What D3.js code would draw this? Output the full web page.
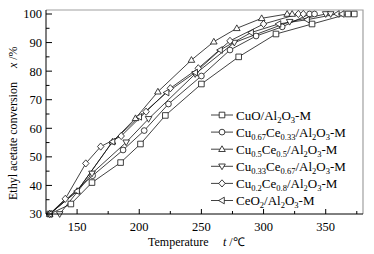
<!DOCTYPE html>
<html>
<head>
<meta charset="utf-8">
<script src="https://cdn.jsdelivr.net/npm/d3@7"></script>
<style>
  body { margin: 0; background: #fff; }
  svg { display: block; }
</style>
</head>
<body>
<div id="chart"></div>
<script>
// Series: [temperature, conversion %]
var cuoData = [[128, 30], [145, 33.5], [162, 41], [185, 48], [201, 54.5], [221, 64.5], [250, 75.5], [280, 85], [310, 93], [339, 96.5], [368, 100], [373, 100]];
var cu67Data = [[128, 30], [162.5, 43.4], [187, 52.4], [204, 59.2], [223.5, 68.5], [250, 78.3], [273, 87.4], [294, 92.3], [315, 95.5], [337, 100], [341, 100]];
var cu50Data = [[128, 30], [150, 38], [178.5, 55.3], [197, 63.5], [215, 72.8], [242, 83.9], [260, 90.3], [278.5, 95], [298.5, 98.5], [319, 100], [323, 100]];
var cu33Data = [[136, 30], [162, 44.2], [189.5, 55.1], [207.5, 63.3], [245, 79], [276.5, 90], [321, 97.3], [350, 100], [354, 100]];
var cu20Data = [[128, 30], [140.5, 35.3], [157, 47.7], [169, 53.6], [185.5, 57.3], [205.5, 65.8], [225, 74], [247.5, 81], [273, 90.6], [300, 96.5], [328, 100], [332, 100]];
var ceoData = [[128, 30], [150, 38], [178.5, 55.3], [200, 64], [222, 72.5], [245, 79.5], [265, 87.4], [290, 93.5], [312, 96.5], [335, 98], [359, 100], [363, 100]];

var seriesNames = ["CuO/Al2O3-M", "Cu0.67Ce0.33/Al2O3-M", "Cu0.5Ce0.5/Al2O3-M", "Cu0.33Ce0.67/Al2O3-M", "Cu0.2Ce0.8/Al2O3-M", "CeO2/Al2O3-M"];
// legend label pieces: [text, isSubscript]
var seriesLabels = [
    [["CuO/Al", 0], ["2", 1], ["O", 0], ["3", 1], ["-M", 0]],
    [["Cu", 0], ["0.67", 1], ["Ce", 0], ["0.33", 1], ["/Al", 0], ["2", 1], ["O", 0], ["3", 1], ["-M", 0]],
    [["Cu", 0], ["0.5", 1], ["Ce", 0], ["0.5", 1], ["/Al", 0], ["2", 1], ["O", 0], ["3", 1], ["-M", 0]],
    [["Cu", 0], ["0.33", 1], ["Ce", 0], ["0.67", 1], ["/Al", 0], ["2", 1], ["O", 0], ["3", 1], ["-M", 0]],
    [["Cu", 0], ["0.2", 1], ["Ce", 0], ["0.8", 1], ["/Al", 0], ["2", 1], ["O", 0], ["3", 1], ["-M", 0]],
    [["CeO", 0], ["2", 1], ["/Al", 0], ["2", 1], ["O", 0], ["3", 1], ["-M", 0]]
];
var markerTypes = ["square", "circle", "up", "down", "diamond", "left"];
var xTicks = [150, 200, 250, 300, 350];
var yTicks = [30, 40, 50, 60, 70, 80, 90, 100];

var allData = [cuoData, cu67Data, cu50Data, cu33Data, cu20Data, ceoData];

var width = 374, height = 254;
var margin = { top: 10, right: 11, bottom: 40, left: 46 };
var font = "'Liberation Serif', 'Times New Roman', serif";

var x = d3.scaleLinear([125, 380], [margin.left, width - margin.right]);
var y = d3.scaleLinear([30, 101.4], [height - margin.bottom, margin.top]);

const svg = d3.select("#chart")
    .append("svg")
    .attr("width", width)
    .attr("height", height)
    .attr("font-family", font);

// frame (top and right in grey)
svg.append("path")
    .attr("d", `M${margin.left},${margin.top}H${width - margin.right}V${height - margin.bottom}`)
    .attr("fill", "none")
    .attr("stroke", "#a0a0a0")
    .attr("stroke-width", 1.2);

// Marker shapes drawn around (0,0)
function markerPath(type) {
    var r = 2.8;
    if (type === "square") return `M${-r},${-r}H${r}V${r}H${-r}Z`;
    if (type === "circle") return d3.symbol(d3.symbolCircle, 26)();
    if (type === "up") return `M0,${-3.4}L${3.3},${2.3}L${-3.3},${2.3}Z`;
    if (type === "down") return `M0,${3.4}L${3.3},${-2.3}L${-3.3},${-2.3}Z`;
    if (type === "diamond") return `M0,${-3.6}L${3.2},0L0,${3.6}L${-3.2},0Z`;
    if (type === "left") return `M${-3.4},0L${2.3},${-3.3}L${2.3},${3.3}Z`;
}

var line = d3.line().x(d => x(d[0])).y(d => y(d[1]));

// lines first, then markers on top
svg.append("g")
    .selectAll("path")
    .data(allData)
    .join("path")
    .attr("d", line)
    .attr("fill", "none")
    .attr("stroke", "#111")
    .attr("stroke-width", 0.8);

allData.forEach(function (data, i) {
    svg.append("g")
        .selectAll("path")
        .data(data)
        .join("path")
        .attr("transform", d => `translate(${x(d[0])},${y(d[1])})`)
        .attr("d", markerPath(markerTypes[i]))
        .attr("fill", "white")
        .attr("stroke", "#111")
        .attr("stroke-width", 0.8);
});

// y axis
var yAxis = svg.append("g").attr("transform", `translate(${margin.left},0)`);
yAxis.append("line")
    .attr("y1", margin.top).attr("y2", height - margin.bottom)
    .attr("stroke", "#000").attr("stroke-width", 1);
yAxis.selectAll("line.minor")
    .data(d3.range(35, 101, 10))
    .join("line")
    .attr("class", "minor")
    .attr("x2", 3.5)
    .attr("y1", d => y(d)).attr("y2", d => y(d))
    .attr("stroke", "#000");
yAxis.selectAll("line.major")
    .data(yTicks)
    .join("line")
    .attr("class", "major")
    .attr("x2", 6)
    .attr("y1", d => y(d)).attr("y2", d => y(d))
    .attr("stroke", "#000");
yAxis.selectAll("text")
    .data(yTicks)
    .join("text")
    .attr("x", -4)
    .attr("y", d => y(d))
    .attr("dy", "0.35em")
    .attr("text-anchor", "end")
    .attr("font-size", 12.5)
    .text(d => d);

// x axis
var xAxis = svg.append("g").attr("transform", `translate(0,${height - margin.bottom})`);
xAxis.append("line")
    .attr("x1", margin.left).attr("x2", width - margin.right)
    .attr("stroke", "#000").attr("stroke-width", 1);
xAxis.selectAll("line.minor")
    .data(d3.range(175, 380, 50))
    .join("line")
    .attr("class", "minor")
    .attr("y2", -3)
    .attr("x1", d => x(d)).attr("x2", d => x(d))
    .attr("stroke", "#000");
xAxis.selectAll("line.major")
    .data(xTicks)
    .join("line")
    .attr("class", "major")
    .attr("y2", -5)
    .attr("x1", d => x(d)).attr("x2", d => x(d))
    .attr("stroke", "#000");
xAxis.selectAll("text")
    .data(xTicks)
    .join("text")
    .attr("x", d => x(d))
    .attr("y", 17)
    .attr("text-anchor", "middle")
    .attr("font-size", 12.5)
    .text(d => d);

// axis titles
svg.append("text")
    .attr("x", 148)
    .attr("y", 246)
    .attr("font-size", 12)
    .text("Temperature");
svg.append("text")
    .attr("x", 223)
    .attr("y", 246)
    .attr("font-size", 12)
    .call(t => t.append("tspan").attr("font-style", "italic").text("t"))
    .call(t => t.append("tspan").text(" /\u2103"));

svg.append("text")
    .attr("transform", "translate(17,200) rotate(-90)")
    .attr("font-size", 12)
    .call(t => t.append("tspan").text("Ethyl acetate conversion"))
    .call(t => t.append("tspan").attr("dx", 14).attr("font-style", "italic").text("x"))
    .call(t => t.append("tspan").text(" /%"));

// legend
var legend = svg.append("g")
    .selectAll("g")
    .data(seriesNames)
    .join("g")
    .attr("transform", (d, i) => `translate(211,${115 + i * 17.1})`);
legend.append("line")
    .attr("x2", 22)
    .attr("stroke", "#111")
    .attr("stroke-width", 0.8);
legend.append("path")
    .attr("transform", "translate(11,0)")
    .attr("d", (d, i) => markerPath(markerTypes[i]))
    .attr("fill", "white")
    .attr("stroke", "#111")
    .attr("stroke-width", 0.8);
legend.append("text")
    .attr("x", 25)
    .attr("y", 4.5)
    .attr("font-size", 13)
    .each(function (d, i) {
        var t = d3.select(this);
        var prevSub = false;
        seriesLabels[i].forEach(function (p) {
            var s = t.append("tspan").text(p[0]);
            if (p[1]) {
                s.attr("font-size", 8.5).attr("dy", prevSub ? 0 : 3);
            } else if (prevSub) {
                s.attr("dy", -3);
            }
            prevSub = !!p[1];
        });
    });
</script>
</body>
</html>
